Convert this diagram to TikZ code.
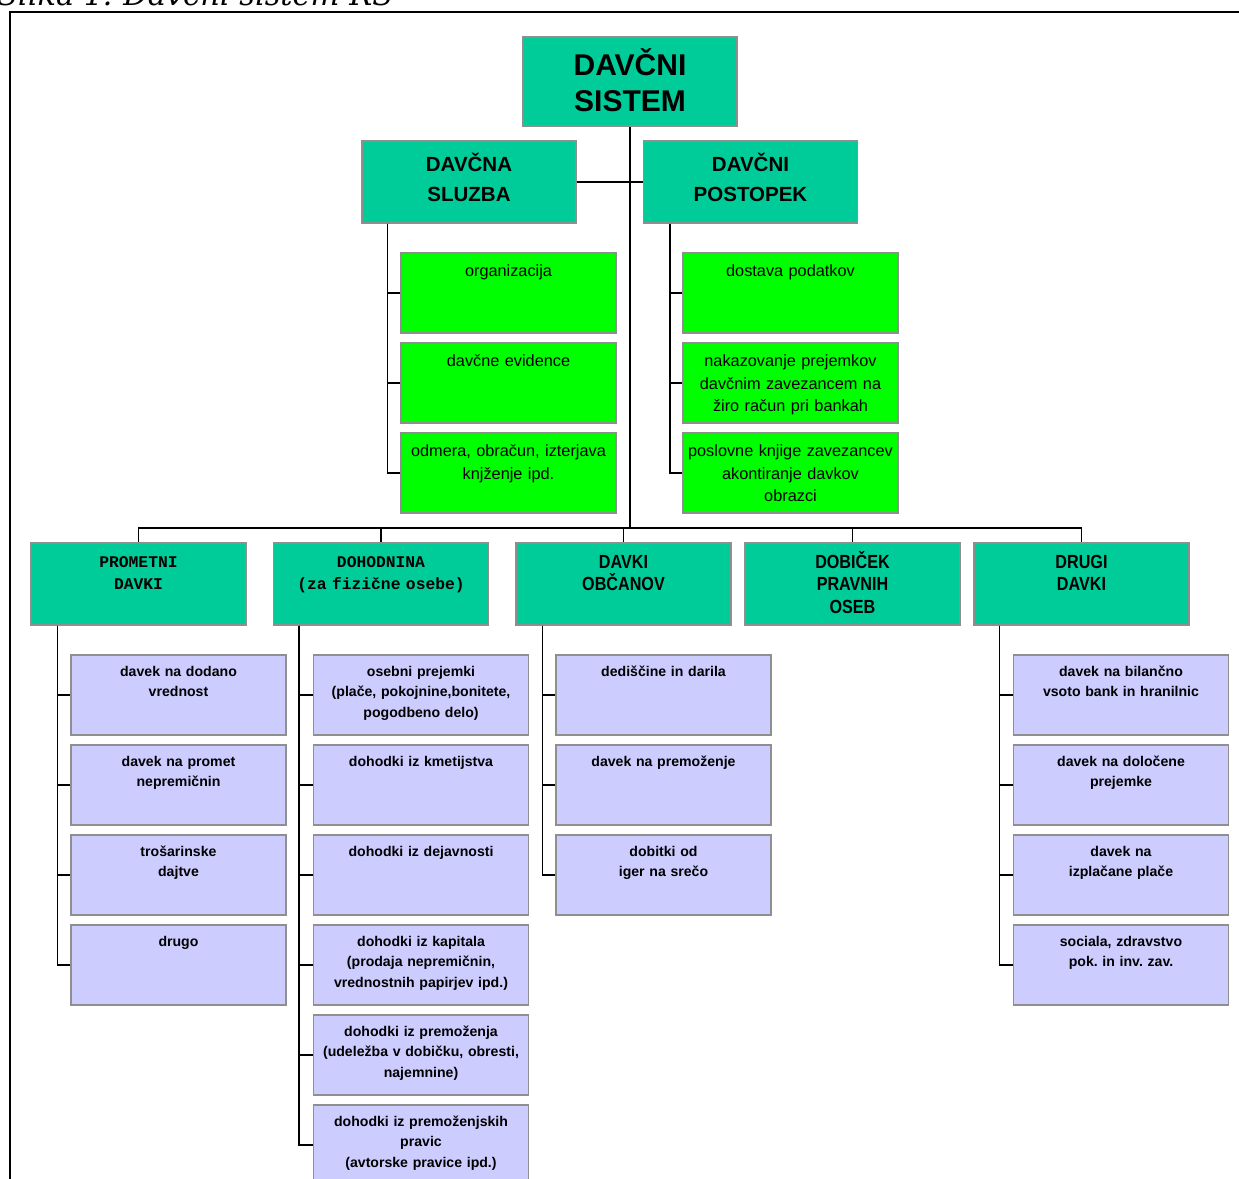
\documentclass[tikz,border=0pt]{standalone}
\usepackage{fontspec}
\setmainfont{Liberation Sans}
\newfontfamily\capfont{DejaVu Serif}
\newfontfamily\courfont{Liberation Mono}
\newfontfamily\narrowfont[FakeStretch=0.85]{Liberation Sans}
\usepackage{tikz}
\usetikzlibrary{positioning}
\frenchspacing
\definecolor{TaxTeal}{HTML}{00CC99}
\definecolor{TaxGreen}{HTML}{00FF00}
\definecolor{TaxLilac}{HTML}{CCCCFF}
\definecolor{BoxGray}{HTML}{8F8F8F}
\tikzset{
  rootbox/.style={rectangle, draw=BoxGray, line width=1.3pt, fill=TaxTeal, text width=214pt, inner sep=0pt, align=center, text height=38pt, text depth=51pt, font=\bfseries\fontsize{30}{36.7}\selectfont},
  headbox/.style={rectangle, draw=BoxGray, line width=1.3pt, fill=TaxTeal, text width=214pt, inner sep=0pt, align=center, text height=30.5pt, text depth=51.5pt, font=\bfseries\fontsize{20.5}{30}\selectfont},
  groupbox/.style={rectangle, draw=BoxGray, line width=1.3pt, fill=TaxTeal, text width=215pt, inner sep=0pt, align=center, text height=25pt, text depth=57pt, font=\narrowfont\bfseries\fontsize{19}{22.5}\selectfont},
  monobox/.style={groupbox, text height=24pt, text depth=58pt, font=\courfont\bfseries\fontsize{16.3}{22.7}\selectfont},
  greenbox/.style={rectangle, draw=BoxGray, line width=1.3pt, fill=TaxGreen, text width=215pt, inner sep=0pt, align=center, text height=23.5pt, text depth=56.5pt, font=\fontsize{16.3}{22.5}\selectfont},
  lilacbox/.style={rectangle, draw=BoxGray, line width=1.3pt, fill=TaxLilac, text width=215pt, inner sep=0pt, align=center, text height=21.5pt, text depth=58.5pt, font=\bfseries\fontsize{14.1}{20.4}\selectfont},
  link/.style={draw=black, line width=1.3pt},
  spine/.style={link, rounded corners=0pt}
}
\begin{document}
\begin{tikzpicture}[x=1pt, y=-1pt, node distance=8.7pt]
  \useasboundingbox (0,0) rectangle (1239,1178);

  % caption and frame
  \node[anchor=base west, inner sep=0pt, font=\capfont\itshape\fontsize{30.5}{36}\selectfont] (caption) at (-3,5) {Slika 1: Davčni sistem RS};
  \draw[line width=2pt] (9.5,1200) |- (1260,11.5);

  % top
  \node[rootbox] (root) at (630,81.5) {DAVČNI\\SISTEM};
  \node[headbox] (sluzba) at (469,182) {DAVČNA\\SLUZBA};
  \node[headbox] (postopek) at (750.5,182) {DAVČNI\\POSTOPEK};

  \node[greenbox] (s1) at (508.5,293) {organizacija};
  \node[greenbox, below=of s1] (s2) {davčne evidence};
  \node[greenbox, below=of s2] (s3) {odmera, obračun, izterjava\\knjženje ipd.};

  \node[greenbox] (p1) at (790.5,293) {dostava podatkov};
  \node[greenbox, below=of p1] (p2) {nakazovanje prejemkov\\davčnim zavezancem na\\žiro račun pri bankah};
  \node[greenbox, below=of p2] (p3) {poslovne knjige zavezancev\\akontiranje davkov\\obrazci};

  % groups of taxes
  \coordinate (bus) at (630,528);
  \node[monobox] (prom) at (138.5,584) {PROMETNI\\DAVKI};
  \node[monobox] (doh) at (381,584) {DOHODNINA\\(za fizične osebe)};
  \node[groupbox] (obc) at (623.5,584) {DAVKI\\OBČANOV};
  \node[groupbox] (dob) at (852.5,584) {DOBIČEK\\PRAVNIH\\OSEB};
  \node[groupbox] (drugi) at (1081.5,584) {DRUGI\\DAVKI};

  \node[lilacbox] (pr1) at (178.5,695) {davek na dodano\\vrednost};
  \node[lilacbox, below=of pr1] (pr2) {davek na promet\\nepremičnin};
  \node[lilacbox, below=of pr2] (pr3) {trošarinske\\dajtve};
  \node[lilacbox, below=of pr3] (pr4) {drugo};

  \node[lilacbox] (do1) at (421,695) {osebni prejemki\\(plače, pokojnine,bonitete,\\pogodbeno delo)};
  \node[lilacbox, below=of do1] (do2) {dohodki iz kmetijstva};
  \node[lilacbox, below=of do2] (do3) {dohodki iz dejavnosti};
  \node[lilacbox, below=of do3] (do4) {dohodki iz kapitala\\(prodaja nepremičnin,\\vrednostnih papirjev ipd.)};
  \node[lilacbox, below=of do4] (do5) {dohodki iz premoženja\\(udeležba v dobičku, obresti,\\najemnine)};
  \node[lilacbox, below=of do5] (do6) {dohodki iz premoženjskih\\pravic\\(avtorske pravice ipd.)};

  \node[lilacbox] (ob1) at (663.5,695) {dediščine in darila};
  \node[lilacbox, below=of ob1] (ob2) {davek na premoženje};
  \node[lilacbox, below=of ob2] (ob3) {dobitki od\\iger na srečo};

  \node[lilacbox] (dr1) at (1121,695) {davek na bilančno\\vsoto bank in hranilnic};
  \node[lilacbox, below=of dr1] (dr2) {davek na določene\\prejemke};
  \node[lilacbox, below=of dr2] (dr3) {davek na\\izplačane plače};
  \node[lilacbox, below=of dr3] (dr4) {sociala, zdravstvo\\pok. in inv. zav.};

  % connectors
  \draw[link] (root) -- (bus);
  \draw[link] (sluzba) -- (postopek);
  \draw[link] (bus) -| (prom);
  \draw[link] (bus) -| (doh);
  \draw[link] (bus) -| (obc);
  \draw[link] (bus) -| (dob);
  \draw[link] (bus) -| (drugi);

  \draw[spine] ([xshift=26pt]sluzba.south west) |- (s1);
  \draw[spine] ([xshift=26pt]sluzba.south west) |- (s2);
  \draw[spine] ([xshift=26pt]sluzba.south west) |- (s3);
  \draw[spine] ([xshift=27pt]postopek.south west) |- (p1);
  \draw[spine] ([xshift=27pt]postopek.south west) |- (p2);
  \draw[spine] ([xshift=27pt]postopek.south west) |- (p3);

  \draw[spine] ([xshift=27pt]prom.south west) |- (pr1);
  \draw[spine] ([xshift=27pt]prom.south west) |- (pr2);
  \draw[spine] ([xshift=27pt]prom.south west) |- (pr3);
  \draw[spine] ([xshift=27pt]prom.south west) |- (pr4);
  \draw[spine] ([xshift=26pt]doh.south west) |- (do1);
  \draw[spine] ([xshift=26pt]doh.south west) |- (do2);
  \draw[spine] ([xshift=26pt]doh.south west) |- (do3);
  \draw[spine] ([xshift=26pt]doh.south west) |- (do4);
  \draw[spine] ([xshift=26pt]doh.south west) |- (do5);
  \draw[spine] ([xshift=26pt]doh.south west) |- (do6);
  \draw[spine] ([xshift=27pt]obc.south west) |- (ob1);
  \draw[spine] ([xshift=27pt]obc.south west) |- (ob2);
  \draw[spine] ([xshift=27pt]obc.south west) |- (ob3);
  \draw[spine] ([xshift=26pt]drugi.south west) |- (dr1);
  \draw[spine] ([xshift=26pt]drugi.south west) |- (dr2);
  \draw[spine] ([xshift=26pt]drugi.south west) |- (dr3);
  \draw[spine] ([xshift=26pt]drugi.south west) |- (dr4);
\end{tikzpicture}
\end{document}
